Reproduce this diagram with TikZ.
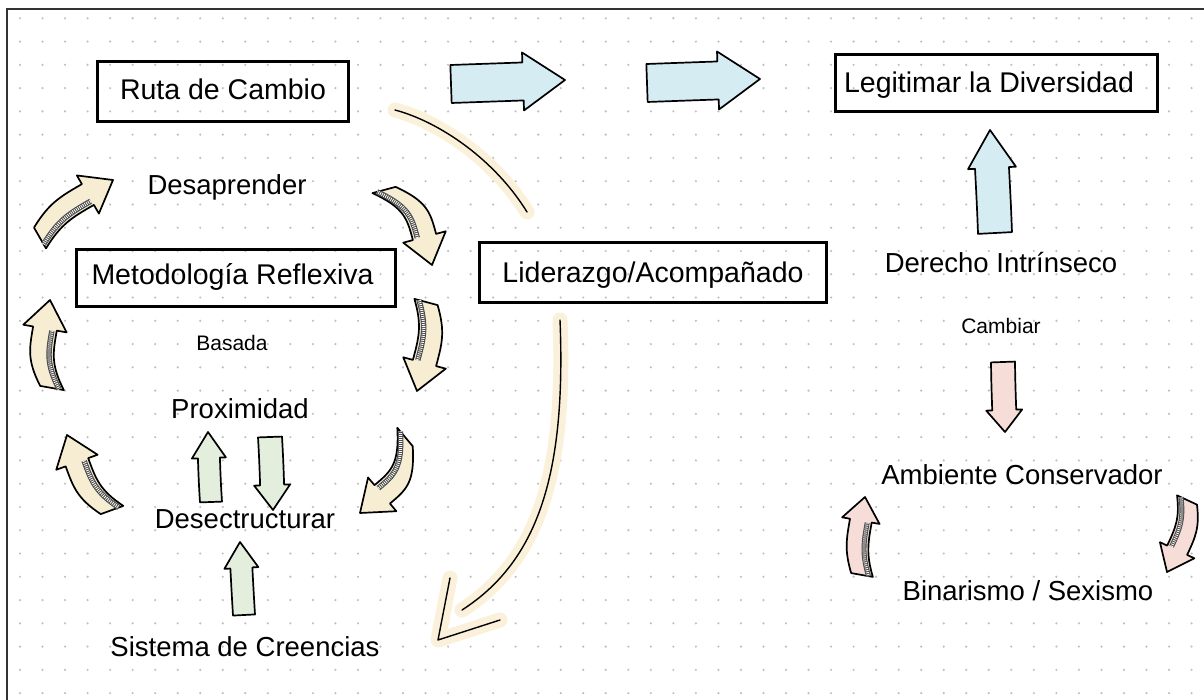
\documentclass[tikz,border=0pt]{standalone}
\usepackage{fontspec}
\setmainfont{Liberation Sans}
\definecolor{cream}{HTML}{F7EDD2}
\definecolor{halo}{HTML}{FBF1DA}
\definecolor{skyb}{HTML}{D4ECF2}
\definecolor{mint}{HTML}{E3EEDD}
\definecolor{rose}{HTML}{F6DDD8}
\definecolor{dotc}{HTML}{C0C0C0}
\pgfkeys{/carr/.cd, s/.initial=9, h/.initial=20, hl/.initial=26, col/.initial=cream, hatch/.initial=1}
% [keys]{tail x}{tail y}{tip x}{tip y}{head angle}
\newcommand{\carrow}[6][]{%
\begingroup
\pgfkeys{/carr/.cd,#1}%
\pgfmathsetmacro\cS{\pgfkeysvalueof{/carr/s}}%
\pgfmathsetmacro\cH{\pgfkeysvalueof{/carr/h}}%
\pgfmathsetmacro\cHL{\pgfkeysvalueof{/carr/hl}}%
\pgfmathsetmacro\cdx{#4-#2}%
\pgfmathsetmacro\cdy{#5-#3}%
\pgfmathsetmacro\cL{\cdx*cos(#6)-\cdy*sin(#6)}%
\pgfmathsetmacro\cB{-(\cdx*sin(#6)+\cdy*cos(#6))}%
\pgfmathsetmacro\cLs{\cL-\cHL}%
\pgfmathsetmacro\cA{-\cL+0.4*\cLs}%
\pgfmathsetmacro\cC{-\cL+0.6*\cLs}%
\pgfmathsetmacro\cSg{ifthenelse(\cB<0,-1,1)}%
\pgfmathsetmacro\cHS{\cSg*0.6*\cS}%
\pgfmathsetmacro\cW{0.45*\cS}%
\pgfmathsetmacro\cWw{0.28*\cS}%
\begin{scope}[shift={(#4,#5)},rotate=#6]
 \filldraw[fill=\pgfkeysvalueof{/carr/col}, draw=black, line width=1.7pt, line join=round]
   (-\cL,\cB-\cS) .. controls (\cA,-\cS) and (\cC,-\cS) .. (-\cHL,-\cS)
   -- (-\cHL,-\cH) -- (0,0) -- (-\cHL,\cH) -- (-\cHL,\cS)
   .. controls (\cC,\cS) and (\cA,\cS) .. (-\cL,\cB+\cS) -- cycle;
 \ifnum\pgfkeysvalueof{/carr/hatch}=1
  \draw[black!70, line width=\cW pt] (-\cHL-1,\cHS) .. controls (\cC,\cHS) and (\cA,\cHS) .. (-\cL,\cB+\cHS);
  \draw[white, line width=\cWw pt, dash pattern=on 0.8pt off 1.2pt] (-\cHL-1,\cHS) .. controls (\cC,\cHS) and (\cA,\cHS) .. (-\cL,\cB+\cHS);
 \fi
\end{scope}
\endgroup}
\tikzset{
  box/.style={draw=black, line width=3pt, rectangle, inner sep=0pt},
  big/.style={font=\fontsize{27.5}{33}\selectfont, inner sep=0pt, anchor=base},
  bigb/.style={font=\fontsize{28.5}{34}\selectfont, inner sep=0pt, anchor=base},
  small/.style={font=\fontsize{21}{25}\selectfont, inner sep=0pt, anchor=base},
  halostroke/.style={halo, line width=15pt, line cap=round, line join=round},
  inkstroke/.style={black, line width=1.4pt, line cap=round, line join=round}
}
\begin{document}
\begin{tikzpicture}[x=1pt,y=-1pt]
\useasboundingbox (0,0) rectangle (1204,700);
\fill[white] (0,0) rectangle (1204,700);
% dot grid
\foreach \i in {0,...,52}{\foreach \j in {0,...,29}{\fill[dotc] ({20+22.53*\i},{18.3+23.27*\j}) circle (1.2);}}
% frame
\draw[black!80, line width=2pt] (7,700) -- (7,9) -- (1204,9);

% boxes
\node[box, minimum width=251pt, minimum height=60pt] (rutabox) at (222.5,92) {};
\node[box, minimum width=319pt, minimum height=57pt] (metbox) at (235.5,278.5) {};
\node[box, minimum width=347pt, minimum height=60pt] (lidbox) at (652.5,273) {};
\node[box, minimum width=322pt, minimum height=57pt] (legbox) at (996,83.5) {};

% texts
\node[bigb] (ruta) at (223,100) {Ruta de Cambio};
\node[bigb] (met) at (232.5,285) {Metodología Reflexiva};
\node[bigb] (lid) at (653,283) {Liderazgo/Acompañado};
\node[bigb] (leg) at (989,93) {Legitimar la Diversidad};
\node[big] (desap) at (227,195) {Desaprender};
\node[small] (basada) at (232,350) {Basada};
\node[big] (prox) at (240,418) {Proximidad};
\node[big] (desest) at (245,528) {Desectructurar};
\node[big] (sist) at (245,656) {Sistema de Creencias};
\node[big] (der) at (1001,273) {Derecho Intrínseco};
\node[small] (camb) at (1001,334) {Cambiar};
\node[big] (amb) at (1022,484) {Ambiente Conservador};
\node[big] (bin) at (1028,600) {Binarismo / Sexismo};

% hand drawn strokes
\coordinate (s1a) at (395,110);
\coordinate (s1b) at (527,212);
\draw[halostroke] (s1a) .. controls (440,122) and (495,160) .. (s1b);
\draw[inkstroke] (s1a) .. controls (440,122) and (495,160) .. (s1b);
\coordinate (s2a) at (560,320);
\coordinate (s2b) at (462,610);
\coordinate (tipA) at (450,578);
\coordinate (tip) at (438,640);
\coordinate (tipB) at (500,620);
\draw[halostroke] (s2a) .. controls (566,470) and (540,560) .. (s2b);
\draw[halostroke] (tipA) -- (tip) -- (tipB);
\draw[inkstroke] (s2a) .. controls (566,470) and (540,560) .. (s2b);
\draw[inkstroke] (tipA) -- (tip) -- (tipB);

% left cycle curved arrows
\carrow[s=12,h=22,hl=29]{40}{238}{113}{180}{30}
\carrow[s=12,h=22,hl=29]{384}{190}{432}{265}{-75}
\carrow[s=12,h=22,hl=29]{52}{388}{50}{300}{80}
\carrow[s=12,h=22,hl=29]{426}{302}{417}{391}{-105}
\carrow[s=12,h=22,hl=29]{112}{510}{67}{435}{110}
\carrow[s=12,h=22,hl=29]{405}{437}{360}{513}{-140}
% right curved arrows
\carrow[s=11,h=19,hl=24,col=rose]{862}{575}{865}{497}{80}
\carrow[s=11,h=19,hl=24,col=rose]{1187}{500}{1167}{572}{-115}
% straight arrows
\carrow[s=11,h=17,hl=26,col=mint,hatch=0]{211}{502}{208}{432}{92}
\carrow[s=12,h=18,hl=25,col=mint,hatch=0]{270}{437}{273}{510}{-88}
\carrow[s=11,h=17,hl=26,col=mint,hatch=0]{244}{615}{240}{542}{93}
\carrow[s=19,h=29,hl=42,col=skyb,hatch=0]{451}{84}{565}{80}{2}
\carrow[s=19,h=29,hl=42,col=skyb,hatch=0]{647}{83}{760}{79}{2}
\carrow[s=17,h=24,hl=38,col=skyb,hatch=0]{995}{233}{990}{130}{93}
\carrow[s=12,h=18,hl=22,col=rose,hatch=0]{1003}{362}{1005}{432}{-88}
\end{tikzpicture}
\end{document}
